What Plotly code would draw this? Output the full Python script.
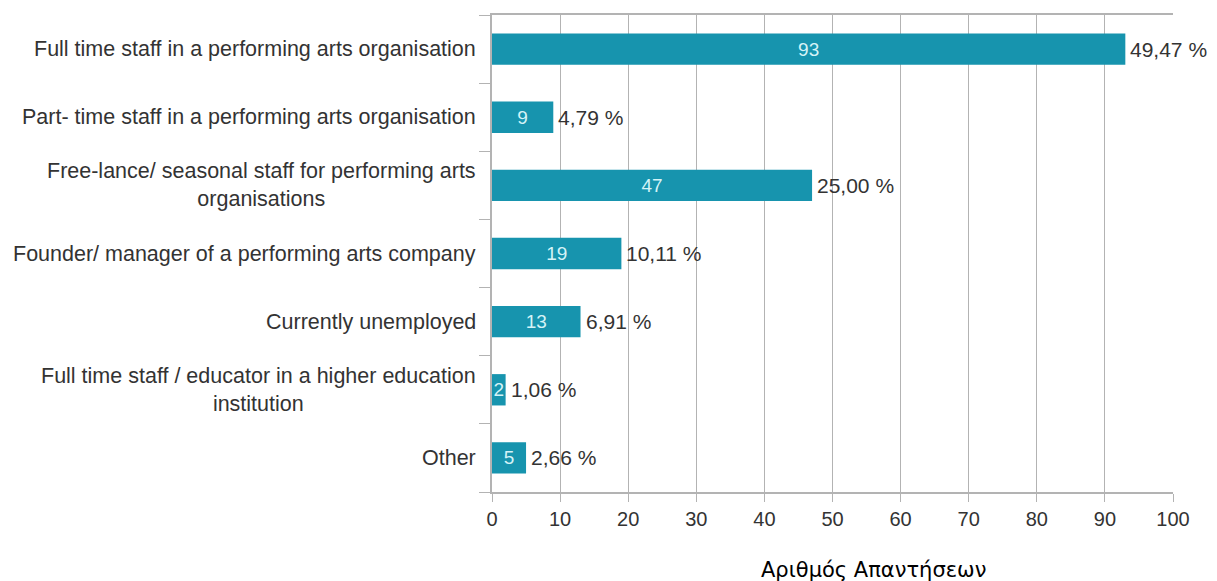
import plotly.graph_objects as go

categories = [
    "Full time staff in a performing arts organisation",
    "Part- time staff in a performing arts organisation",
    "Free-lance/ seasonal staff for performing arts<br>organisations",
    "Founder/ manager of a performing arts company",
    "Currently unemployed",
    "Full time staff / educator in a higher education<br>institution",
    "Other",
]
counts = [93, 9, 47, 19, 13, 2, 5]
percent_labels = ["49,47 %", "4,79 %", "25,00 %", "10,11 %", "6,91 %", "1,06 %", "2,66 %"]
x_ticks = [0, 10, 20, 30, 40, 50, 60, 70, 80, 90, 100]
x_title = "Αριθμός Απαντήσεων"

FONT = "Liberation Sans, Arial, sans-serif"
BAR = "#1794ae"
GRID = "#b3b3b3"
TXT = "#333333"

ids = list(range(len(categories)))

fig = go.Figure()
fig.add_trace(go.Bar(
    y=ids, x=counts, orientation="h",
    marker=dict(color=BAR, line=dict(width=0)),
    width=0.46,
    text=[str(c) for c in counts],
    textposition="inside", insidetextanchor="middle", constraintext="none",
    textfont=dict(family=FONT, size=19, color="#d4f3f7"),
    cliponaxis=False,
    hoverinfo="skip",
))

for i, (v, p) in enumerate(zip(counts, percent_labels)):
    fig.add_annotation(
        xref="x", yref="y", x=v, y=i, xanchor="left", yanchor="middle",
        xshift=3, text=p, showarrow=False,
        font=dict(family=FONT, size=21, color=TXT),
    )

for i, c in enumerate(categories):
    fig.add_annotation(
        xref="paper", yref="y", x=0, y=i, xanchor="right", yanchor="middle",
        xshift=-14, text=c, showarrow=False, align="center",
        font=dict(family=FONT, size=21.5, color=TXT),
    )

fig.add_annotation(
    xref="paper", yref="paper", x=0.5595, y=0, xanchor="center", yanchor="middle",
    yshift=-78, text=x_title, showarrow=False,
    font=dict(family="DejaVu Sans, sans-serif", size=21, color="#000000"),
)

fig.update_layout(
    width=1217, height=581,
    margin=dict(l=484, r=52, t=7, b=97),
    paper_bgcolor="white", plot_bgcolor="white",
    showlegend=False,
)
fig.update_xaxes(
    range=[0, 100], tickvals=x_ticks, ticktext=[str(t) for t in x_ticks],
    showgrid=True, gridcolor=GRID, gridwidth=1,
    zeroline=False, showline=True, linecolor=GRID, linewidth=1.5, mirror=True,
    ticks="outside", ticklen=8, tickcolor=GRID,
    tickfont=dict(family=FONT, size=20, color=TXT),
    automargin=False,
)
fig.update_yaxes(
    range=[len(categories) - 0.5, -0.5],
    tickvals=[i + 0.5 for i in range(-1, len(categories))],
    ticktext=[""] * (len(categories) + 1),
    showgrid=False, zeroline=False,
    showline=True, linecolor=GRID, linewidth=1.5,
    ticks="outside", ticklen=11, tickcolor=GRID,
    automargin=False,
)

fig.write_html("out.html")
